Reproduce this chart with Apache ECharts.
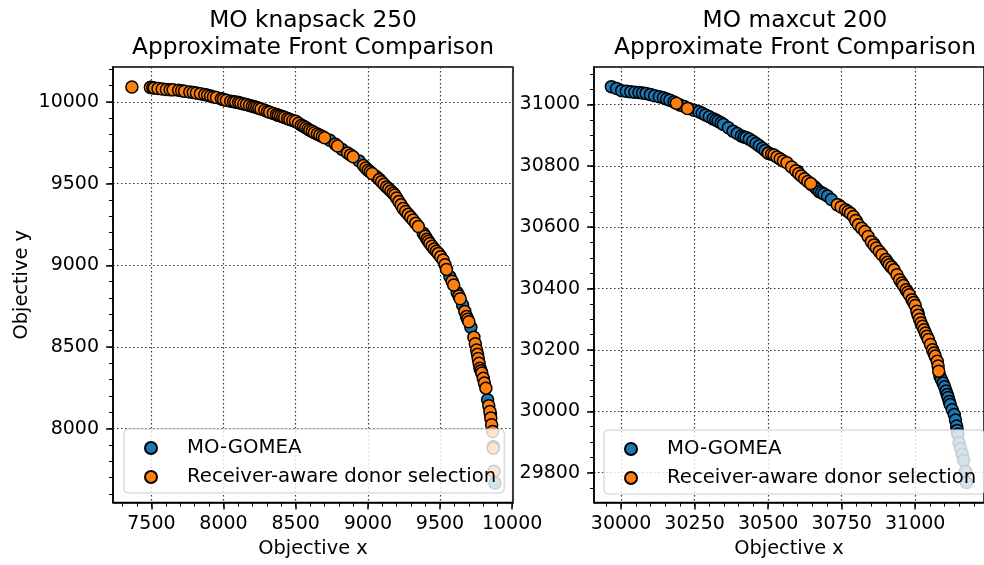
<!DOCTYPE html>
<html>
<head>
<meta charset="utf-8">
<script src="https://cdn.jsdelivr.net/npm/echarts@6/dist/echarts.min.js"></script>
<style>
html,body{margin:0;padding:0;background:#fff;}
#chart{width:984px;height:565px;}
</style>
</head>
<body>
<div id="chart"></div>
<script>
// ---------- DATA ----------
const seriesNames = ['MO-GOMEA', 'Receiver-aware donor selection'];
const panelTitles = ['MO knapsack 250\nApproximate Front Comparison', 'MO maxcut 200\nApproximate Front Comparison'];

const knapsackTicksX = [7500, 8000, 8500, 9000, 9500, 10000];
const knapsackTicksY = [8000, 8500, 9000, 9500, 10000];
const maxcutTicksX = [30000, 30250, 30500, 30750, 31000];
const maxcutTicksY = [29800, 30000, 30200, 30400, 30600, 30800, 31000];

// MO knapsack 250 — MO-GOMEA (mostly hidden under the other series)
const knapsackGomea = [
  [7495,10090],[8000,10014],[8500,9880],[8737,9766],[8822,9709],[8940,9639],[9000,9584],
  [9060,9542],[9250,9345],[9384,9196],[9500,9060],[9569,8930],[9619,8833],[9657,8757],
  [9714,8621],[9830,8177],[9850,8090],[9870,7890],[9881,7667]
];
// MO knapsack 250 — Receiver-aware donor selection
const knapsackReceiver = [
  [7365,10092],[7493,10088],[7510,10087],[7520,10086],[7546,10082],[7575,10079],[7604,10076],
  [7630,10075],[7650,10074],[7689,10072],[7710,10069],[7730,10066],[7766,10061],[7790,10058],
  [7812,10055],[7840,10051],[7870,10045],[7890,10041],[7910,10036],[7930,10031],[7951,10027],
  [7985,10019],[8000,10015],[8020,10010],[8050,10004],[8070,10002],[8085,10000],[8105,9996],
  [8120,9992],[8140,9988],[8159,9984],[8180,9979],[8200,9974],[8215,9970],[8230,9966],
  [8245,9961],[8260,9957],[8286,9949],[8305,9942],[8320,9937],[8345,9930],[8367,9923],
  [8380,9918],[8395,9914],[8410,9909],[8424,9905],[8445,9898],[8460,9893],[8480,9887],
  [8499,9882],[8520,9870],[8540,9858],[8555,9851],[8570,9843],[8585,9835],[8598,9827],
  [8615,9820],[8630,9812],[8650,9804],[8667,9796],[8685,9789],[8700,9781],
  [8775,9741],[8790,9730],
  [8860,9687],[8880,9676],[8898,9664],[8970,9611],
  [8986,9596],[9002,9582],[9016,9572],[9030,9562],[9080,9526],
  [9095,9512],[9112,9496],[9130,9480],[9145,9468],[9160,9455],[9175,9442],[9187,9430],
  [9200,9412],[9215,9390],[9230,9370],[9245,9348],[9262,9330],[9280,9312],[9297,9295],
  [9314,9277],[9332,9257],[9350,9237],[9398,9178],[9410,9160],
  [9420,9147],[9430,9134],[9445,9117],[9460,9100],[9475,9086],[9488,9073],[9505,9052],
  [9522,9032],[9535,9003],[9545,8975],[9584,8902],[9595,8880],
  [9632,8812],[9640,8795],[9672,8718],
  [9684,8686],[9692,8670],[9700,8655],[9735,8560],[9745,8520],
  [9754,8482],[9760,8455],[9765,8430],[9771,8400],[9777,8370],[9784,8355],[9790,8340],
  [9800,8309],[9808,8280],[9818,8248],[9838,8140],[9846,8105],
  [9852,8065],[9858,8024],[9865,7983],[9869,7881],[9874,7739]
];

// MO maxcut 200 — MO-GOMEA
const maxcutGomea = [
  [29967,31058],[29985,31052],[30002,31045],[30018,31043],[30033,31041],[30047,31040],
  [30061,31039],[30073,31037],[30085,31036],[30100,31032],[30114,31028],[30130,31025],
  [30144,31022],[30155,31018],[30166,31014],[30180,31008],[30200,30998],[30215,30993],
  [30230,30987],[30248,30981],[30265,30976],[30276,30971],[30287,30966],[30300,30960],
  [30313,30953],[30322,30949],[30330,30945],[30340,30940],[30348,30935],[30365,30924],
  [30381,30913],[30395,30905],[30409,30897],[30418,30894],[30425,30892],[30436,30887],
  [30448,30880],[30459,30873],[30470,30865],[30481,30857],[30490,30850],[30500,30842],
  [30540,30823],[30600,30782],[30648,30738],[30658,30732],[30666,30724],[30674,30716],
  [30682,30712],[30690,30708],[30702,30702],[30715,30690],[30740,30672],[30800,30620],
  [30860,30545],[30920,30470],[30970,30395],[31010,30320],[31060,30200],[31084,30115],
  [31089,30104],[31095,30092],[31100,30080],[31105,30066],[31109,30055],[31112,30045],
  [31116,30032],[31119,30022],[31126,30005],[31133,29990],[31137,29972],[31141,29952],
  [31143,29938],[31145,29925],[31149,29898],[31155,29878],[31160,29860],[31165,29840],
  [31171,29805],[31174,29768]
];
// MO maxcut 200 — Receiver-aware donor selection
const maxcutReceiver = [
  [30188,31004],[30226,30987],[30501,30841],[30512,30838],[30520,30835],[30530,30829],
  [30541,30822],[30552,30816],[30564,30810],[30580,30796],[30594,30784],[30604,30775],
  [30613,30767],[30624,30758],[30635,30749],[30645,30742],[30735,30673],[30748,30666],
  [30763,30657],[30772,30651],[30780,30645],[30790,30635],[30798,30622],[30807,30608],
  [30818,30597],[30829,30586],[30840,30570],[30851,30553],[30860,30542],[30868,30532],
  [30878,30521],[30887,30510],[30900,30495],[30906,30486],[30912,30478],[30920,30470],
  [30928,30461],[30938,30445],[30947,30429],[30955,30418],[30960,30410],[30969,30396],
  [30975,30388],[30980,30380],[30989,30364],[30995,30355],[31000,30345],[31006,30326],
  [31010,30313],[31015,30300],[31020,30288],[31025,30277],[31030,30266],[31035,30255],
  [31040,30245],[31045,30234],[31052,30218],[31059,30201],[31064,30190],[31068,30180],
  [31075,30163],[31078,30148],[31080,30131]
];

// ---------- CHART ----------
const FONT = 'DejaVu Sans';
const BLUE = '#1f77b4', ORANGE = '#ff7f0e';

const ranges = {
  kx: [7234, 10006], ky: [7548, 10214],
  mx: [29908, 31234], my: [29703, 31122]
};

function steps(lo, hi, step) {
  const out = [];
  for (let v = Math.ceil(lo / step) * step; v <= hi; v += step) out.push(v);
  return out;
}

function mainAxis(kind, gridIndex, range, ticks, extra) {
  const isX = kind === 'x';
  return Object.assign({
    type: 'value', gridIndex: gridIndex, min: range[0], max: range[1],
    position: isX ? 'bottom' : 'left',
    axisLine: { show: true, onZero: false, lineStyle: { color: '#000', width: 1.5 } },
    axisTick: { show: true, inside: false, length: 7, customValues: ticks, lineStyle: { color: '#000', width: 1.5 } },
    minorTick: { show: false },
    axisLabel: {
      show: true, customValues: ticks, color: '#000', fontFamily: FONT, fontSize: 19,
      margin: isX ? 12 : 14, formatter: v => String(v)
    },
    splitLine: { show: true, lineStyle: { color: '#333', width: 1.2, type: [1.5, 2.5] } }
  }, extra || {});
}

function minorAxis(kind, gridIndex, range, step) {
  const isX = kind === 'x';
  return {
    type: 'value', gridIndex: gridIndex, min: range[0], max: range[1],
    position: isX ? 'bottom' : 'left', offset: 0,
    axisLine: { show: false, onZero: false },
    axisTick: { show: true, inside: false, length: 4, customValues: steps(range[0], range[1], step), lineStyle: { color: '#000', width: 1 } },
    axisLabel: { show: false },
    splitLine: { show: false }
  };
}

const nameStyle = { color: '#000', fontFamily: FONT, fontSize: 19.4 };

const xAxes = [
  mainAxis('x', 0, ranges.kx, knapsackTicksX, { name: 'Objective x', nameLocation: 'middle', nameGap: 37, nameTextStyle: nameStyle }),
  minorAxis('x', 0, ranges.kx, 100),
  mainAxis('x', 1, ranges.mx, maxcutTicksX, { name: 'Objective x', nameLocation: 'middle', nameGap: 37, nameTextStyle: nameStyle }),
  minorAxis('x', 1, ranges.mx, 50)
];
const yAxes = [
  mainAxis('y', 0, ranges.ky, knapsackTicksY, { name: 'Objective y', nameLocation: 'middle', nameGap: 82, nameTextStyle: nameStyle }),
  minorAxis('y', 0, ranges.ky, 100),
  mainAxis('y', 1, ranges.my, maxcutTicksY),
  minorAxis('y', 1, ranges.my, 50)
];

function scatter(name, data, xi, yi, color) {
  return {
    type: 'scatter', name: name, data: data, xAxisIndex: xi, yAxisIndex: yi,
    symbol: 'circle', symbolSize: 12,
    itemStyle: { color: color, borderColor: '#000', borderWidth: 1.5, opacity: 1 },
    emphasis: { disabled: true }, silent: true
  };
}

function legendAt(left, top) {
  return {
    orient: 'vertical', left: left, top: top,
    data: [{ name: seriesNames[0], icon: 'circle' }, { name: seriesNames[1], icon: 'circle' }],
    itemWidth: 16, itemHeight: 12, itemGap: 7,
    padding: [8, 8, 5, 20],
    backgroundColor: 'rgba(255,255,255,0.8)',
    borderColor: '#cccccc', borderWidth: 1, borderRadius: 4,
    textStyle: { color: '#000', fontFamily: FONT, fontSize: 19.7, lineHeight: 22, padding: [0, 0, 0, 23] },
    selectedMode: false
  };
}

const titleStyle = { color: '#000', fontFamily: FONT, fontSize: 23.3, fontWeight: 'normal', lineHeight: 27 };

const option = {
  animation: false,
  backgroundColor: '#fff',
  title: [
    { text: panelTitles[0], left: 313, top: 7, textAlign: 'center', padding: 0, textStyle: titleStyle },
    { text: panelTitles[1], left: 795, top: 7, textAlign: 'center', padding: 0, textStyle: titleStyle }
  ],
  grid: [
    { left: 113, top: 67, width: 400, height: 435.5, show: true, borderColor: '#000', borderWidth: 1.5, backgroundColor: 'transparent' },
    { left: 594, top: 67, width: 400, height: 435.5, show: true, borderColor: '#000', borderWidth: 1.5, backgroundColor: 'transparent' }
  ],
  legend: [legendAt(124, 429), legendAt(604, 430)],
  xAxis: xAxes,
  yAxis: yAxes,
  series: [
    scatter(seriesNames[0], knapsackGomea, 0, 0, BLUE),
    scatter(seriesNames[1], knapsackReceiver, 0, 0, ORANGE),
    scatter(seriesNames[0], maxcutGomea, 2, 2, BLUE),
    scatter(seriesNames[1], maxcutReceiver, 2, 2, ORANGE)
  ]
};

const chart = echarts.init(document.getElementById('chart'), null, { renderer: 'canvas' });
chart.setOption(option);
</script>
</body>
</html>
